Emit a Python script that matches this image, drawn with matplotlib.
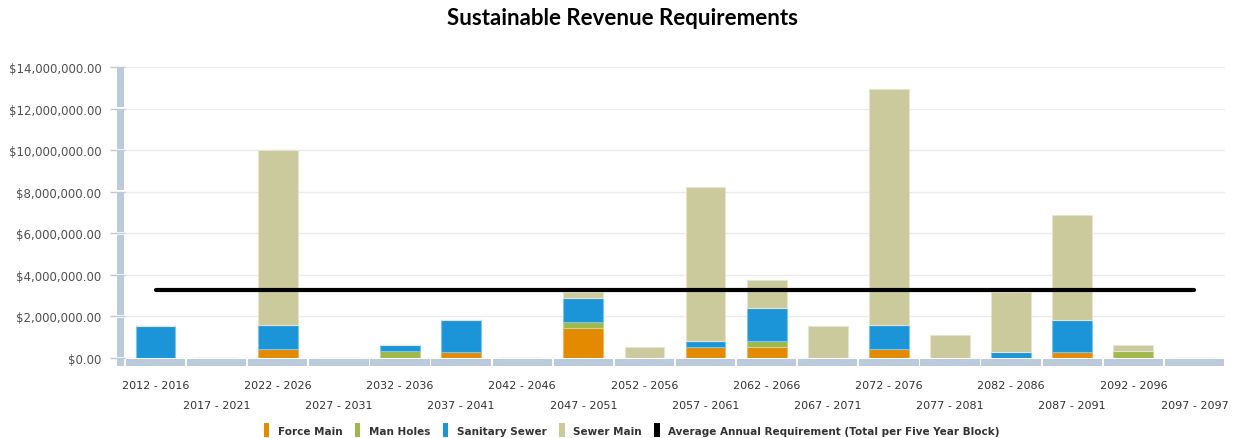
import matplotlib
matplotlib.use("Agg")
import matplotlib.pyplot as plt
import matplotlib.transforms as mtransforms
from matplotlib.patches import Patch, Rectangle
from matplotlib.ticker import FuncFormatter, MultipleLocator
import numpy as np

# dados (em milhoes de dolares)
periods = ["2012 - 2016", "2017 - 2021", "2022 - 2026", "2027 - 2031", "2032 - 2036",
           "2037 - 2041", "2042 - 2046", "2047 - 2051", "2052 - 2056", "2057 - 2061",
           "2062 - 2066", "2067 - 2071", "2072 - 2076", "2077 - 2081", "2082 - 2086",
           "2087 - 2091", "2092 - 2096", "2097 - 2097"]
force_main = [0, 0, 0.43, 0, 0, 0.29, 0, 1.44, 0, 0.51, 0.51, 0, 0.43, 0, 0, 0.29, 0, 0]
man_holes = [0, 0, 0, 0, 0.32, 0, 0, 0.27, 0, 0, 0.32, 0, 0, 0, 0, 0, 0.32, 0]
sanitary_sewer = [1.54, 0, 1.14, 0, 0.29, 1.55, 0, 1.18, 0, 0.32, 1.56, 0, 1.14, 0, 0.29, 1.55, 0, 0]
sewer_main = [0, 0, 8.42, 0, 0, 0, 0, 0.28, 0.53, 7.39, 1.36, 1.55, 11.38, 1.09, 2.88, 5.05, 0.32, 0]
avg_requirement = [3.25] * len(periods)

series = [
    ("Force Main", force_main, "#e38a00", "#f0b560"),
    ("Man Holes", man_holes, "#9fb84a", "#c5d68e"),
    ("Sanitary Sewer", sanitary_sewer, "#1b95d8", "#7cc4ec"),
    ("Sewer Main", sewer_main, "#cbca9d", "#e6e5cc"),
]

fig = plt.figure(figsize=(12.36, 4.39), dpi=100)
W, H = 1236, 439
ax = fig.add_axes([125 / W, (H - 359) / H, 1100 / W, 291 / H])

x = np.arange(len(periods))
bottom = np.zeros(len(periods))
for name, vals, col, edge in series:
    v = np.array(vals) * 1e6
    ax.bar(x, v, width=0.65, bottom=bottom, color=col, edgecolor=edge, linewidth=0.8, zorder=3)
    bottom += v

ax.plot(x, np.array(avg_requirement) * 1e6, color="black", lw=3, solid_capstyle="round", zorder=4)

ax.set_xlim(-0.5, len(periods) - 0.5)
ax.set_ylim(0, 14e6)
ax.yaxis.set_major_locator(MultipleLocator(2e6))
ax.yaxis.set_major_formatter(FuncFormatter(lambda v, p: "${:,.2f}".format(v)))
ax.grid(axis="y", color="#ebebeb", lw=1, zorder=0)
ax.set_axisbelow(True)
for s in ax.spines.values():
    s.set_visible(False)

ax.tick_params(axis="y", length=11, width=1, color="#bccbdb", pad=6, labelsize=8.5, labelcolor="#505050")
ax.set_xticks(x)
ax.set_xticklabels(periods, fontsize=8, color="#333333")
ax.tick_params(axis="x", length=0)
for i, tick in enumerate(ax.xaxis.get_major_ticks()):
    tick.set_pad(16 if i % 2 == 0 else 30)

# barras do eixo (azul claro, segmentadas)
axis_col = "#bccbdb"
tx = mtransforms.blended_transform_factory(ax.transData, ax.transAxes)
for i in x:
    ax.add_patch(Rectangle((i - 0.485, -0.028), 0.97, 0.024, transform=tx,
                           color=axis_col, clip_on=False, zorder=5, lw=0))
ty = mtransforms.blended_transform_factory(ax.transAxes, ax.transData)
for k in range(7):
    ax.add_patch(Rectangle((-0.0073, k * 2e6 + 0.06e6), 0.0063, 1.88e6, transform=ty,
                           color=axis_col, clip_on=False, zorder=5, lw=0))
ax.add_patch(Rectangle((-0.0073, -0.028), 0.0063, 0.024, transform=ax.transAxes,
                       color=axis_col, clip_on=False, zorder=5, lw=0))

fig.text(0.504, 0.958, "Sustainable Revenue Requirements", ha="center", va="center",
         fontsize=16, fontweight="bold", family=["Lato", "DejaVu Sans"])

handles = [Patch(facecolor=c, edgecolor="none") for _, _, c, _ in series]
handles.append(Patch(facecolor="black", edgecolor="none"))
labels = [n for n, _, _, _ in series] + ["Average Annual Requirement (Total per Five Year Block)"]
fig.legend(handles, labels, loc="center", bbox_to_anchor=(0.511, 0.018), ncol=5, frameon=False,
           handlelength=0.55, handleheight=1.6, handletextpad=0.8, columnspacing=1.2,
           prop={"weight": "bold", "size": 7.5}, labelcolor="#333333")

fig.savefig("out.png", dpi=100)
